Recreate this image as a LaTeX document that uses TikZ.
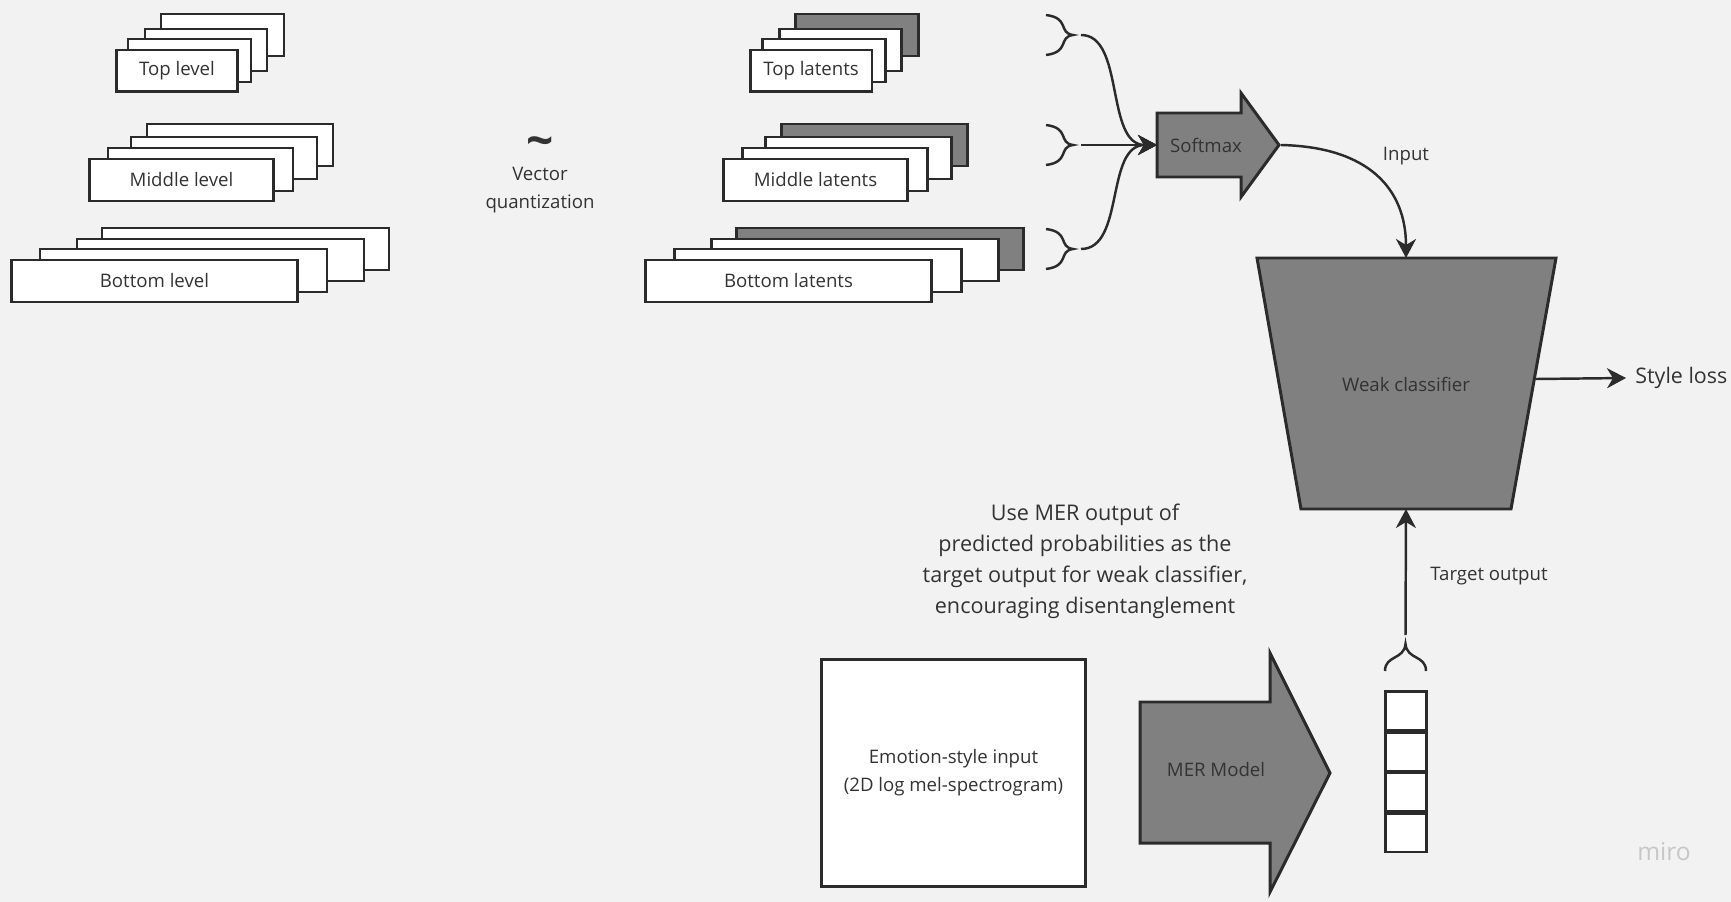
\documentclass[tikz,border=0pt]{standalone}
\usepackage{fontspec}
\setmainfont{Open Sans}
\usetikzlibrary{positioning, calc, arrows.meta}

\definecolor{bgc}{HTML}{F2F2F2}
\definecolor{linec}{HTML}{2B2B2B}
\definecolor{gfill}{HTML}{808080}
\definecolor{txtc}{HTML}{333333}

\begin{document}
\begin{tikzpicture}[
          x=0.02cm, y=-0.02cm,
          sheet/.style={draw=linec, fill=white, line width=1.7pt},
          card/.style={sheet, inner sep=0, minimum height=0.84cm, text=txtc},
          gblock/.style={draw=linec, fill=gfill, line width=1.7pt},
          link/.style={draw=linec, line width=1.4pt},
          txt/.style={text=txtc, inner sep=0},
          >={Stealth[length=0.38cm, width=0.4cm, inset=0.12cm]},
          font=\fontsize{10.6}{15.9}\selectfont,
      ]
          % Background
          \fill[bgc] (0,0) rectangle (1731,902);
          \useasboundingbox (0,0) rectangle (1731,902);

          % Level stacks and latent stacks
          \foreach \a/\b/\c/\d/\f in {161/14/284/56/gfill, 145/29/267/71/white, 128/39/251/82/white,
                                      147/124/333/166/gfill, 131/137/317/179/white, 108/148/293/191/white,
                                      102/228/389/270/gfill, 77/239/364/281/white, 40/249/327/292/white} {
              \draw[sheet] (\a,\b) rectangle (\c,\d);
              \draw[sheet, fill=\f] (\a+634,\b) rectangle (\c+634,\d);
          }
          \node [card, minimum width=2.44cm] (toplevel) at (177,71) {Top level};
          \node [card, minimum width=3.70cm] (midlevel) at (181.5,180) {Middle level};
          \node [card, minimum width=5.74cm] (botlevel) at (154.5,281) {Bottom level};
          \node [card, minimum width=2.44cm] (toplat) at (811,71) {Top latents};
          \node [card, minimum width=3.70cm] (midlat) at (815.5,180) {Middle latents};
          \node [card, minimum width=5.74cm] (botlat) at (788.5,281) {Bottom latents};

          % Vector quantization
          \node [txt] (vq) at (540,147) {\scalebox{1.7}{\fontsize{16}{16}\selectfont\bfseries\textasciitilde}};
          \node [txt, align=center] (vqtext) at (540,190) {Vector\\quantization};

          % Braces
          \foreach \y/\n in {35/tb, 145/mb, 249/bb} {
              \draw[link] (1046,\y-20) .. controls (1070,\y-17) and (1058,\y-2) .. (1073,\y)
                  .. controls (1058,\y+2) and (1070,\y+17) .. (1046,\y+20);
              \coordinate (\n) at (1081,\y);
          }

          % Softmax block
          \draw[gblock] (1157,113) -- (1241,113) -- (1241,93) -- (1279,145)
              -- (1241,197) -- (1241,177) -- (1157,177) -- cycle;
          \node [txt] (softmax) at (1206,145) {Softmax};
          \coordinate (softmaxin) at (1157,145);
          \coordinate (softmaxout) at (1281,145);

          % Weak classifier
          \draw[gblock] (1257,258) -- (1556,258) -- (1511,509) -- (1301,509) -- cycle;
          \node [txt] (weak) at (1406,384) {Weak classifier};
          \coordinate (weaktop) at (1406,258);
          \coordinate (weakbot) at (1406,509);
          \coordinate (weakright) at (1536,379);
          \node [txt, inner xsep=0.18cm, anchor=west, font=\fontsize{12.2}{15}\selectfont] (styleloss) at (1626,378) {Style loss};

          % MER part
          \node [sheet, inner sep=0, minimum width=5.3cm, minimum height=4.56cm, align=center, text=txtc] (merin) at (953.5,773)
              {Emotion-style input\\(2D log mel-spectrogram)};
          \draw[gblock] (1140,702) -- (1270,702) -- (1270,653) -- (1330,773)
              -- (1270,892) -- (1270,843) -- (1140,843) -- cycle;
          \node [txt] (mer) at (1216,770) {MER Model};
          \foreach \i in {0,...,3}
              \node [sheet, inner sep=0, minimum width=0.82cm, minimum height=0.78cm] (prob\i) at (1405.5,711+40.5*\i) {};
          \draw[link] (1385,671) .. controls (1385,655) and (1404,660) .. (1405.5,644)
              .. controls (1407,660) and (1426,655) .. (1426,671);
          \coordinate (probtop) at (1405.5,635);

          \node [txt, align=center, font=\fontsize{12.3}{17.6}\selectfont] (note) at (1085,561)
              {Use MER output of\\predicted probabilities as the\\target output for weak classifier,\\encouraging disentanglement};

          % Arrows
          \draw [link, ->] (tb) .. controls (1125,35) and (1105,145) .. (softmaxin);
          \draw [link, ->] (mb) -- (softmaxin);
          \draw [link, ->] (bb) .. controls (1125,249) and (1105,145) .. (softmaxin);
          \draw [link, ->] (softmaxout) .. controls (1370,147) and (1406,190) .. (weaktop);
          \node [txt] (inputlbl) at (1406,156) {Input};
          \draw [link, ->] (weakright) -- (styleloss.west);
          \draw [link, ->] (probtop) -- (weakbot);
          \node [txt] (targetlbl) at (1489,576) {Target output};

          \node [text=black!22, inner sep=0, font=\fontsize{14}{14}\selectfont] (miro) at (1664,852) {miro};
        \end{tikzpicture}
\end{document}
